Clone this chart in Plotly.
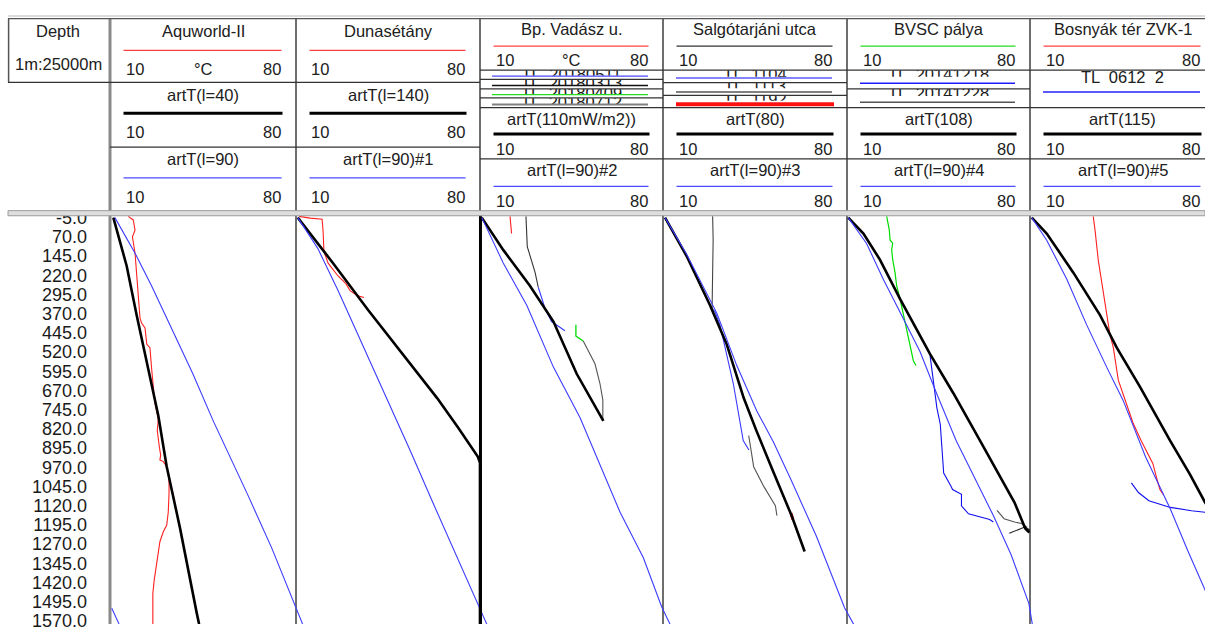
import plotly.graph_objects as go

# ------------------------------------------------------------------ data
depth_ticks = [-5.0, 70.0, 145.0, 220.0, 295.0, 370.0, 445.0, 520.0, 595.0, 670.0, 745.0,
               820.0, 895.0, 970.0, 1045.0, 1120.0, 1195.0, 1270.0, 1345.0, 1420.0, 1495.0, 1570.0]

track_names = ["Aquworld-II", "Dunasétány", "Bp. Vadász u.", "Salgótarjáni utca", "BVSC pálya", "Bosnyák tér ZVK-1"]
artT_names = ["artT(l=40)", "artT(l=140)", "artT(110mW/m2))", "artT(80)", "artT(108)", "artT(115)"]
artT90_names = ["artT(l=90)", "artT(l=90)#1", "artT(l=90)#2", "artT(l=90)#3", "artT(l=90)#4", "artT(l=90)#5"]
scale_min, scale_max = 10, 80
unit_label = "°C"
sub_names = ["TL  20180511", "TL  20180313", "TL  20180409", "TL  20180712",
             "TL  1104", "TL  1113", "TL  1192", "TL  20141218", "TL  20141228"]
bos_sub_name = "TL  0612  2"

# Track 1 : Aquworld-II
aqu_meas_depth = [-10, 4, 44, 70, 134, 210, 299, 388, 407, 426, 490, 503, 592, 668, 719, 783, 827, 891,
                  923, 942, 948, 967, 1006, 1070, 1146, 1197, 1222, 1261, 1299, 1337, 1413, 1464, 1583]
aqu_meas_temp = [16.6, 18.5, 19.2, 18.2, 19.2, 19.8, 20.4, 21.1, 21.7, 23.0, 23.7, 24.9, 25.6, 26.2, 26.8,
                 28.1, 27.7, 28.5, 29.0, 28.7, 30.0, 31.3, 32.2, 32.2, 31.9, 31.3, 30.0, 28.7, 28.1, 27.5,
                 26.5, 26.0, 26.0]
aqu_l40_depth = [-5, 184, 375, 566, 769, 967, 1208, 1540, 1583]
aqu_l40_temp = [10.9, 16.0, 19.8, 23.7, 28.1, 31.3, 36.4, 42.8, 43.7]
aqu_l90_depth = [-5, 134, 261, 439, 605, 789, 1082, 1286, 1515, 1583]
aqu_l90_temp = [11.5, 19.2, 25.5, 33.8, 41.3, 49.1, 62.5, 71.5, 80.4, 83.3]
aqu_l90_wrap_depth = [1521, 1583]
aqu_l90_wrap_temp = [10.3, 13.1]

# Track 2 : Dunasétány
duna_meas_depth = [-10, -3, 1, 51, 127, 173, 223, 253, 280, 299, 307]
duna_meas_temp = [10.8, 15.0, 19.6, 20.0, 20.3, 21.9, 25.7, 28.7, 30.3, 33.0, 35.6]
duna_l140_depth = [-5, 173, 356, 700, 815, 929, 953, 1583]
duna_l140_temp = [10.3, 23.8, 37.2, 63.6, 71.6, 79.2, 80.0, 80.0]
duna_l90_depth = [-5, 116, 280, 452, 624, 700, 903, 1109, 1300, 1490, 1583]
duna_l90_temp = [10.3, 18.0, 25.7, 33.3, 41.0, 44.3, 53.2, 62.0, 70.4, 78.7, 82.6]

# Track 3 : Bp. Vadász u.
vad_red_depth = [-10, 57]
vad_red_temp = [21.1, 21.7]
vad_top_depth = [-10, 108, 210, 267]
vad_top_temp = [27.2, 27.7, 30.7, 31.9]
vad_blue_depth = [267, 350, 401, 437]
vad_blue_temp = [31.9, 34.5, 37.0, 42.1]
vad_green_depth = [413, 458, 477]
vad_green_temp = [46.3, 46.3, 49.1]
vad_gray_depth = [477, 566, 643, 707, 789]
vad_gray_temp = [49.1, 53.6, 55.5, 56.6, 56.6]
vad_edge_depth = [-15, 1583]
vad_edge_temp = [9.8, 9.8]
vad_hf_depth = [-5, 121, 261, 401, 605, 789]
vad_hf_temp = [10.3, 18.5, 28.7, 37.7, 46.6, 56.8]
vad_l90_depth = [-5, 172, 337, 579, 777, 993, 1146, 1324, 1515, 1583]
vad_l90_temp = [10.3, 18.5, 27.5, 37.7, 47.9, 56.8, 63.2, 72.1, 79.1, 82.3]

# Track 4 : Salgótarjáni utca
sal_vert_depth = [-10, 82, 210, 349]
sal_vert_temp = [28.6, 28.8, 28.6, 28.4]
sal_meas_depth = [349, 363, 414, 528, 643, 719, 866, 903]
sal_meas_temp = [28.4, 29.5, 31.4, 33.9, 36.5, 37.8, 40.3, 42.5]
sal_gray_depth = [846, 968, 1044, 1120, 1159]
sal_gray_temp = [42.4, 44.3, 48.1, 52.6, 53.2]
sal_red_depth = [1150, 1175]
sal_red_temp = [58.6, 59.3]
sal_a80_depth = [-5, 146, 337, 490, 700, 826, 993, 1159, 1299]
sal_a80_temp = [10.4, 18.7, 27.6, 34.0, 40.5, 45.3, 52.0, 58.8, 63.8]
sal_l90_depth = [-5, 139, 368, 572, 750, 871, 1024, 1240, 1520, 1583]
sal_l90_temp = [10.4, 18.7, 30.2, 37.8, 45.5, 51.8, 58.8, 68.3, 79.1, 82.5]

# Track 5 : BVSC pálya
bv_green_depth = [-10, 44, 83, 95, 121, 159, 210, 261, 312, 376, 465, 503, 554, 573]
bv_green_temp = [24.8, 25.8, 26.1, 27.1, 26.7, 27.1, 28.0, 28.6, 29.9, 31.2, 33.1, 33.8, 35.0, 36.0]
bv_meas_depth = [535, 681, 738, 802, 891, 993, 1044, 1057, 1076, 1121, 1152, 1174, 1184]
bv_meas_temp = [41.4, 43.3, 44.0, 45.3, 46.0, 46.6, 49.4, 50.0, 53.4, 53.4, 56.1, 64.2, 65.6]
bv_gray_depth = [1139, 1171, 1184, 1190, 1204]
bv_gray_temp = [67.0, 69.7, 73.7, 76.4, 78.5]
bv_dark_depth = [1228, 1203, 1216]
bv_dark_temp = [71.7, 77.8, 79.6]
bv_a108_depth = [-5, 57, 159, 312, 528, 681, 866, 1006, 1108, 1209, 1225]
bv_a108_temp = [10.1, 15.9, 22.2, 29.9, 41.4, 50.3, 60.5, 68.1, 73.7, 77.8, 79.4]
bv_l90_depth = [-5, 96, 236, 389, 517, 682, 865, 1019, 1159, 1312, 1503, 1583]
bv_l90_temp = [10.1, 17.1, 23.5, 31.2, 37.5, 43.9, 51.3, 58.8, 65.6, 72.4, 79.2, 80.5]

# Track 6 : Bosnyák tér ZVK-1
bos_red_depth = [-10, 44, 159, 286, 376, 452, 503, 630, 719, 796, 866, 955, 1006, 1057, 1076]
bos_red_temp = [33.8, 34.5, 35.7, 37.7, 39.0, 40.2, 41.5, 43.4, 46.4, 49.0, 52.1, 56.6, 57.9, 59.3, 60.6]
bos_tl_depth = [1031, 1069, 1101, 1127, 1140, 1146]
bos_tl_temp = [48.4, 51.1, 55.1, 63.3, 71.4, 76.6]
bos_a115_depth = [-5, 57, 210, 376, 503, 656, 866, 998, 1108, 1170]
bos_a115_temp = [10.3, 16.0, 26.2, 36.4, 42.8, 51.7, 63.2, 70.8, 76.6, 80.4]
bos_l90_depth = [-5, 83, 236, 414, 580, 708, 929, 1133, 1299, 1452, 1583]
bos_l90_temp = [10.3, 16.0, 23.7, 31.3, 39.0, 45.2, 53.8, 63.3, 70.1, 76.6, 82.3]

# ------------------------------------------------------------------ styling / geometry
W, H = 1205, 631
FONT = "Arial, Liberation Sans, sans-serif"
TXT = "#202020"
RED, BLUE, DBLUE, GREEN, BLACK = "#ff2020", "#3b3bff", "#1010ee", "#00dd00", "#000000"

borders = [110, 296, 480, 663, 847, 1030, 1215]
data_left = [111, 297, 481, 664, 848, 1031]
data_w = 183
plot_top = 213
depth_top, depth_bottom = -14.2, 1582.5


def px(x):
    return x / W


def py(y):
    return 1 - y / H


curves = [
    (0, aqu_meas_depth, aqu_meas_temp, RED, 1.1),
    (0, aqu_l40_depth, aqu_l40_temp, BLACK, 2.6),
    (0, aqu_l90_depth, aqu_l90_temp, BLUE, 1.1),
    (0, aqu_l90_wrap_depth, aqu_l90_wrap_temp, BLUE, 1.1),
    (1, duna_meas_depth, duna_meas_temp, RED, 1.1),
    (1, duna_l140_depth, duna_l140_temp, BLACK, 2.6),
    (1, duna_l90_depth, duna_l90_temp, BLUE, 1.1),
    (2, vad_red_depth, vad_red_temp, RED, 1.1),
    (2, vad_top_depth, vad_top_temp, "#333333", 1.1),
    (2, vad_blue_depth, vad_blue_temp, BLUE, 1.1),
    (2, vad_green_depth, vad_green_temp, GREEN, 1.3),
    (2, vad_gray_depth, vad_gray_temp, "#555555", 1.1),
    (2, vad_edge_depth, vad_edge_temp, BLACK, 3),
    (2, vad_hf_depth, vad_hf_temp, BLACK, 2.6),
    (2, vad_l90_depth, vad_l90_temp, BLUE, 1.1),
    (3, sal_vert_depth, sal_vert_temp, "#444444", 1.1),
    (3, sal_meas_depth, sal_meas_temp, BLUE, 1.1),
    (3, sal_gray_depth, sal_gray_temp, "#555555", 1.1),
    (3, sal_red_depth, sal_red_temp, RED, 3),
    (3, sal_a80_depth, sal_a80_temp, BLACK, 2.6),
    (3, sal_l90_depth, sal_l90_temp, BLUE, 1.1),
    (4, bv_green_depth, bv_green_temp, GREEN, 1.2),
    (4, bv_meas_depth, bv_meas_temp, DBLUE, 1.1),
    (4, bv_gray_depth, bv_gray_temp, "#555555", 1.1),
    (4, bv_dark_depth, bv_dark_temp, "#222222", 1.1),
    (4, bv_a108_depth, bv_a108_temp, BLACK, 2.6),
    (4, bv_l90_depth, bv_l90_temp, BLUE, 1.1),
    (5, bos_red_depth, bos_red_temp, RED, 1.1),
    (5, bos_tl_depth, bos_tl_temp, DBLUE, 1.1),
    (5, bos_a115_depth, bos_a115_temp, BLACK, 2.6),
    (5, bos_l90_depth, bos_l90_temp, BLUE, 1.1),
]

fig = go.Figure()
layout = dict(width=W, height=H, margin=dict(l=0, r=0, t=0, b=0),
              paper_bgcolor="white", plot_bgcolor="rgba(0,0,0,0)", showlegend=False,
              font=dict(family=FONT, size=16, color=TXT))

for i in range(6):
    L = data_left[i]
    dl = L - 4
    dr = min(L + data_w + 30, W)
    key = "xaxis" if i == 0 else f"xaxis{i + 1}"
    layout[key] = dict(domain=[px(dl), px(dr)],
                       range=[scale_min + (dl - L) * (scale_max - scale_min) / data_w,
                              scale_min + (dr - L) * (scale_max - scale_min) / data_w],
                       visible=False, anchor="y", fixedrange=True)

layout["yaxis"] = dict(domain=[0, py(plot_top)], range=[depth_bottom, depth_top],
                       anchor="free", position=px(87), tickvals=depth_ticks,
                       ticktext=[f"{v:.1f}" for v in depth_ticks], ticks="",
                       ticklabeloverflow="allow",
                       showgrid=False, zeroline=False, showline=False, fixedrange=True,
                       tickfont=dict(family=FONT, size=18, color="#1a1a1a"))

for (t, dep, tmp, col, wd) in curves:
    fig.add_trace(go.Scatter(x=tmp, y=dep, mode="lines", xaxis="x" if t == 0 else f"x{t + 1}",
                             yaxis="y", line=dict(color=col, width=wd), hoverinfo="skip"))

# clipped (partially hidden) curve-name texts in the crowded header cells
sub_cells = [  # track, clip top, clip bottom
    (2, 64.7, 70.3), (2, 74.2, 79.8), (2, 83.9, 89.3), (2, 93.2, 99.2),
    (3, 64.7, 71.3), (3, 77.5, 83.0), (3, 90.5, 96.0),
    (4, 64.7, 71.3), (4, 83.9, 91.0),
]
for j, ((t, ytop, ybot), name) in enumerate(zip(sub_cells, sub_names)):
    xi, yi = 7 + j, 2 + j
    x0, x1 = borders[t] + 1, borders[t + 1] - 1
    layout[f"xaxis{xi}"] = dict(domain=[px(x0), px(x1)], range=[x0, x1], visible=False,
                                anchor=f"y{yi}", fixedrange=True)
    layout[f"yaxis{yi}"] = dict(domain=[py(ybot), py(ytop)], range=[ybot, ytop], visible=False,
                                anchor=f"x{xi}", fixedrange=True)
    fig.add_trace(go.Scatter(x=[(x0 + x1) / 2], y=[ytop + 5.6], mode="text", text=[name],
                             textposition="middle center", cliponaxis=True,
                             textfont=dict(family=FONT, size=16.5, color=TXT),
                             xaxis=f"x{xi}", yaxis=f"y{yi}", hoverinfo="skip"))

shapes = []


def hline(y, x0, x1, color="#333333", width=1.2, layer="above"):
    shapes.append(dict(type="line", xref="paper", yref="paper", x0=px(x0), x1=px(min(x1, W)),
                       y0=py(y), y1=py(y), line=dict(color=color, width=width), layer=layer))


def vline(x, y0, y1, color="#707070", width=2, layer="below"):
    shapes.append(dict(type="line", xref="paper", yref="paper", x0=px(x), x1=px(x),
                       y0=py(y0), y1=py(y1), line=dict(color=color, width=width), layer=layer))


# frame
hline(9.3, 8, W, "#d0d0d0", 1.5)
hline(11.8, 8, W, "#555555", 1.3)
vline(8.6, 11.8, 77, "#555555", 1.5, "above")
for b in borders[:-1]:
    vline(b, 11.8, H, "#8a8a8a" if b == 110 else "#6e6e6e", 3 if b == 110 else 2)
hline(77, 8, 480)
hline(143.3, 110, 480)
for yv in (64.5, 103, 155.3):
    hline(yv, 480, W)
for yv in (74, 83.7, 93):
    hline(yv, 480, 663)
for yv in (77.3, 90.3):
    hline(yv, 663, 847)
hline(83.7, 847, 1030)
shapes.append(dict(type="rect", xref="paper", yref="paper", x0=px(8), x1=px(W), y0=py(213.5),
                   y1=py(208.3), fillcolor="#dedede", line=dict(color="#9a9a9a", width=1), layer="above"))

annotations = []


def text(s, x, y, anchor="center", size=16.5):
    annotations.append(dict(text=s, x=px(x), y=py(y), xref="paper", yref="paper", showarrow=False,
                            xanchor=anchor, yanchor="middle", font=dict(family=FONT, size=size, color=TXT)))


text("Depth", 58, 25)
text("1m:25000m", 58, 58.5)

# header layout templates: (title, top line, top scale, artT name, artT line, artT scale, l90 name, l90 line, l90 scale)
tmpl_a = (24.5, 44.3, 63, 90.5, 108.7, 128, 155.8, 174.7, 194)
tmpl_b = (23, 40, 54.5, 115, 130, 145.5, 167, 183.5, 198.5)
top_line_colors = ["#ff4040", "#ff4040", "#ff4040", "#333333", "#22dd22", "#ff4040"]

for i in range(6):
    tl, tr = borders[i], borders[i + 1]
    cx = (tl + tr) / 2
    a, b = tl + 13.5, tr - 14.5
    tp = tmpl_a if i < 2 else tmpl_b
    text(track_names[i], cx, tp[0])
    hline(tp[1], a, b, top_line_colors[i], 1.3)
    for ys in (tp[2], tp[5], tp[8]):
        text(str(scale_min), a, ys, "left")
        text(str(scale_max), b + 1, ys, "right")
    if i in (0, 2):
        text(unit_label, cx, tp[2])
    text(artT_names[i], cx, tp[3])
    hline(tp[4], a, b + 1, "#000000", 3)
    text(artT90_names[i], cx, tp[6])
    hline(tp[7], a, b, "#4a4aff", 1.3)

# crowded sub-cell colour keys
hline(70.7, 492, 648, "#4a4aff", 1.3)
hline(80.3, 492, 648, "#111111", 1.3)
hline(89.7, 492, 648, "#22dd22", 1.3)
hline(99.7, 492, 648, "#808080", 2)
hline(72.7, 676, 832, "#5a5aff", 1.5)
hline(87.0, 676, 832, "#808080", 2)
hline(99.5, 676, 834, "#ff1010", 4)
hline(78.0, 860, 1015, "#1c1cff", 1.5)
hline(97.3, 860, 1015, "#555555", 1.5)
text(bos_sub_name, 1122, 72)
hline(87.0, 1043, 1200, "#5a5aff", 2)

layout["shapes"] = shapes
layout["annotations"] = annotations
fig.update_layout(**layout)

# pin the graph to the page corner so the figure pixels match the window pixels
pin_js = ("document.body.style.margin='0';document.body.style.overflow='hidden';"
          "var g=document.getElementById('{plot_id}');g.style.position='fixed';"
          "g.style.left='0px';g.style.top='0px';")
fig.write_html("out.html", post_script=pin_js, config={"displayModeBar": False})
